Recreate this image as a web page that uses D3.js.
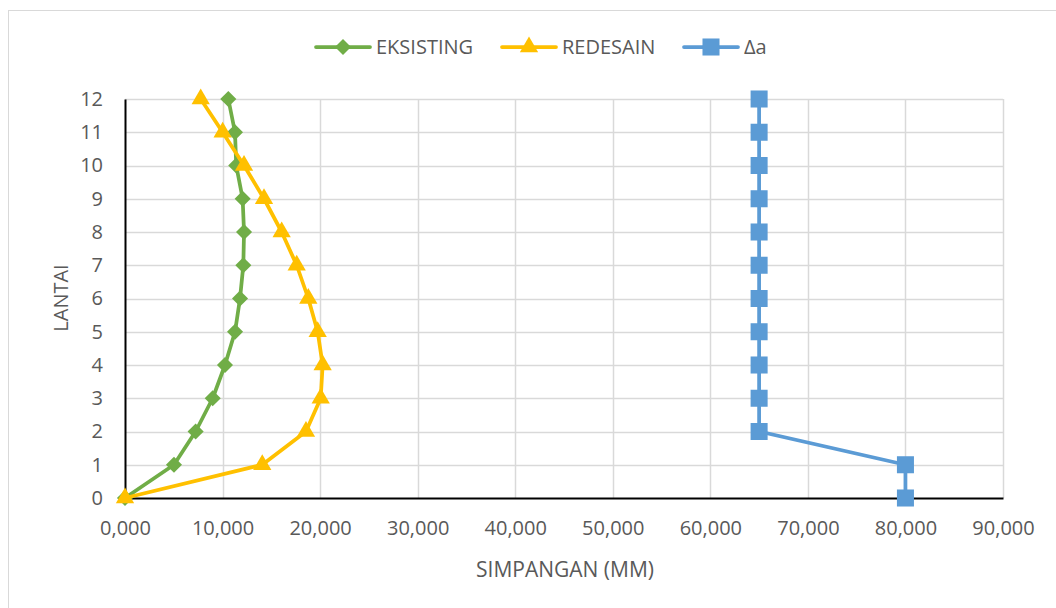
<!DOCTYPE html>
<html>
<head>
<meta charset="utf-8">
<script src="https://cdn.jsdelivr.net/npm/d3@7"></script>
<style>
  html, body { margin: 0; padding: 0; background: #fff; }
  svg { display: block; font-family: "Open Sans", "Noto Sans", sans-serif; }
</style>
</head>
<body>
<svg id="chart" width="1056" height="608"></svg>
<script>
// Storey numbers (LANTAI)
const floors = [0, 1, 2, 3, 4, 5, 6, 7, 8, 9, 10, 11, 12];
// Storey drift (SIMPANGAN, mm) per series
const eksisting = [0, 5020, 7240, 8990, 10250, 11280, 11790, 12130, 12200, 12060, 11400, 11275, 10590];
const redesain  = [0, 14070, 18550, 20060, 20260, 19750, 18790, 17600, 16060, 14250, 12200, 10010, 7760];
const deltaA    = [80000, 80000, 65000, 65000, 65000, 65000, 65000, 65000, 65000, 65000, 65000, 65000, 65000];
const seriesNames = ["EKSISTING", "REDESAIN", "Δa"];
const xTicks = [0, 10000, 20000, 30000, 40000, 50000, 60000, 70000, 80000, 90000];
const yTicks = floors;

const svg = d3.select("#chart");
const W = 1056, H = 608;
const plot = { left: 125, right: 1003, top: 99, bottom: 498 };
const FONT = '"Open Sans", "Noto Sans", sans-serif';

// chart frame
svg.append("rect")
  .attr("x", 8.5).attr("y", 10.5)
  .attr("width", W).attr("height", H)
  .attr("fill", "#fff").attr("stroke", "#d9d9d9").attr("stroke-width", 1);

const x = d3.scaleLinear().domain([0, 90000]).range([plot.left, plot.right]);
const y = d3.scaleLinear().domain([0, 12]).range([plot.bottom, plot.top]);

const tickFmt = d => (d / 1000).toString() + ",000";

// gridlines
const grid = svg.append("g");
grid.selectAll("line.v").data(xTicks.slice(1)).join("line")
  .attr("x1", d => Math.round(x(d)) + 0.5).attr("x2", d => Math.round(x(d)) + 0.5)
  .attr("y1", plot.top).attr("y2", plot.bottom)
  .attr("stroke", "#d9d9d9").attr("stroke-width", 1.5);
grid.selectAll("line.h").data(yTicks.slice(1)).join("line")
  .attr("x1", plot.left).attr("x2", plot.right)
  .attr("y1", d => Math.round(y(d)) + 0.5).attr("y2", d => Math.round(y(d)) + 0.5)
  .attr("stroke", "#d9d9d9").attr("stroke-width", 1.5);

// axes
const xAxis = svg.append("g")
  .attr("transform", `translate(0,${plot.bottom})`)
  .call(d3.axisBottom(x).tickValues(xTicks).tickFormat(tickFmt).tickSize(0).tickPadding(23))
  .attr("font-family", FONT);
xAxis.select(".domain").attr("stroke", "#000").attr("stroke-width", 2);
xAxis.selectAll("text").attr("fill", "#595959").attr("font-size", 20);

const yAxis = svg.append("g")
  .attr("transform", `translate(${plot.left},0)`)
  .call(d3.axisLeft(y).tickValues(yTicks).tickFormat(d3.format("d")).tickSize(0).tickPadding(22))
  .attr("font-family", FONT);
yAxis.select(".domain").attr("stroke", "#000").attr("stroke-width", 2);
yAxis.selectAll("text").attr("fill", "#595959").attr("font-size", 20);

// axis titles
svg.append("text")
  .attr("x", 565).attr("y", 577)
  .attr("text-anchor", "middle").attr("fill", "#595959").attr("font-size", 21)
  .text("SIMPANGAN (MM)");
svg.append("text")
  .attr("transform", "translate(68,298) rotate(-90)")
  .attr("text-anchor", "middle").attr("fill", "#595959").attr("font-size", 20)
  .text("LANTAI");

// series
const colors = ["#70AD47", "#FFC000", "#5B9BD5"];
const symbols = [d3.symbolDiamond2, d3.symbolTriangle, d3.symbolSquare];
const symSizes = [165, 145, 290];
const values = [eksisting, redesain, deltaA];

const line = d3.line().x(d => x(d[0])).y(d => y(d[1]));

values.forEach((vals, i) => {
  const pts = floors.map((f, k) => [vals[k], f]);
  const g = svg.append("g");
  g.append("path").datum(pts)
    .attr("d", line).attr("fill", "none")
    .attr("stroke", colors[i]).attr("stroke-width", 3.75).attr("stroke-linejoin", "round");
  g.selectAll("path.m").data(pts).join("path")
    .attr("class", "m")
    .attr("transform", d => `translate(${x(d[0])},${y(d[1])})`)
    .attr("d", d3.symbol().type(symbols[i]).size(symSizes[i]))
    .attr("fill", colors[i]);
});

// legend
const legendX = [316, 502, 684];
const lg = svg.append("g");
seriesNames.forEach((name, i) => {
  const gx = legendX[i], gy = 47;
  lg.append("line")
    .attr("x1", gx).attr("x2", gx + 54).attr("y1", gy).attr("y2", gy)
    .attr("stroke", colors[i]).attr("stroke-width", 3.75).attr("stroke-linecap", "round");
  lg.append("path")
    .attr("transform", `translate(${gx + 27},${gy})`)
    .attr("d", d3.symbol().type(symbols[i]).size(symSizes[i]))
    .attr("fill", colors[i]);
  lg.append("text")
    .attr("x", gx + 60).attr("y", gy).attr("dy", "0.36em")
    .attr("fill", "#595959").attr("font-size", 20)
    .text(name);
});
</script>
</body>
</html>
